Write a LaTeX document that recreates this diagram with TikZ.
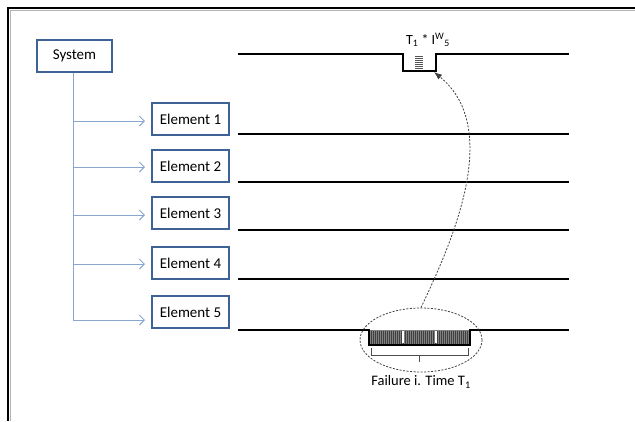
\documentclass[tikz,border=0pt]{standalone}
\usepackage{fontspec}
\setmainfont{Carlito}
\usetikzlibrary{arrows.meta,shapes.geometric}
\definecolor{boxblue}{HTML}{3F6296}
\definecolor{lineblue}{HTML}{8AA7D0}
\definecolor{hatch}{HTML}{555555}
\tikzset{
  elbox/.style={draw=boxblue,line width=1.4pt,fill=white,minimum width=77pt,minimum height=32pt,inner sep=0pt,font=\fontsize{15}{17}\selectfont},
  conn/.style={draw=lineblue,line width=1pt,-{Straight Barb[length=5pt,width=10pt,line width=0.9pt]}},
  timeline/.style={line width=2.6pt,black},
  dashedarc/.style={dash pattern=on 2pt off 1.5pt,line width=0.8pt,draw=black!75}
}
\begin{document}
\begin{tikzpicture}[x=1pt,y=-1pt]
\useasboundingbox (0,0) rectangle (635,421);
% frame
\draw[gray!60,line width=1pt] (10.5,421) -- (10.5,10.5) -- (635,10.5);
\draw[black,line width=2pt] (8,421) -- (8,8) -- (635,8);
% boxes
\node[elbox,minimum width=75pt] (sys) at (74.5,56) {System};
\node[elbox] (e1) at (190.5,119) {Element 1};
\node[elbox] (e2) at (190.5,166) {Element 2};
\node[elbox] (e3) at (190.5,213) {Element 3};
\node[elbox] (e4) at (190.5,263) {Element 4};
\node[elbox] (e5) at (190.5,312) {Element 5};
% tree
\coordinate (bot) at (73,320);
\draw[lineblue,line width=1pt] (sys.south -| bot) -- (bot);
\foreach \e/\y in {e1/121,e2/167,e3/215,e4/264,e5/320}{
  \coordinate (s\e) at (73,\y);
  \draw[conn] (s\e) -- (145,\y);
}
% timelines
\coordinate (t0a) at (238,54);
\coordinate (t0b) at (569,54);
\draw[timeline] (t0a) -- (403,54) -- (403,71) -- (436,71) -- (436,54) -- (t0b);
\foreach \y in {134,182,230,279}{
  \draw[timeline] (238,\y) -- (569,\y);
}
% small hatching in top notch
\foreach \yy in {56,58,...,68}{
  \draw[hatch,line width=1pt] (415,\yy) -- (423,\yy);
}
% bottom notch
\fill[black!50] (370,330) rectangle (469,344);
\foreach \xx in {371.5,373.5,...,468}{
  \draw[black!75,line width=0.9pt] (\xx,331) -- (\xx,344);
}
\draw[white,line width=1.2pt] (403,331) -- (403,343);
\draw[white,line width=1.2pt] (436,331) -- (436,343);
\draw[timeline] (238,330) -- (369,330) -- (369,345) -- (470,345) -- (470,330) -- (569,330);
% bracket
\draw[black!70,line width=0.8pt] (371,348) -- (371,355) -- (468,355) -- (468,348);
\draw[black!70,line width=0.8pt] (419.5,355) -- (419.5,362);
% ellipse
\node[ellipse,dashedarc,minimum width=122pt,minimum height=64pt,inner sep=0pt] (ell) at (421,340) {};
% curve
\coordinate (tip) at (434,72);
\draw[dashedarc,-{Latex[length=8pt,width=6pt]}] (ell.north) .. controls (448,250) and (505,130) .. (tip);
% labels
\node[font=\fontsize{14}{16}\selectfont] (lab1) at (428,40) {T\textsubscript{1} * I\textsuperscript{W}\textsubscript{5}};
\node[font=\fontsize{14.5}{16}\selectfont] (lab2) at (421,382) {Failure i. Time T\textsubscript{1}};
\end{tikzpicture}
\end{document}
